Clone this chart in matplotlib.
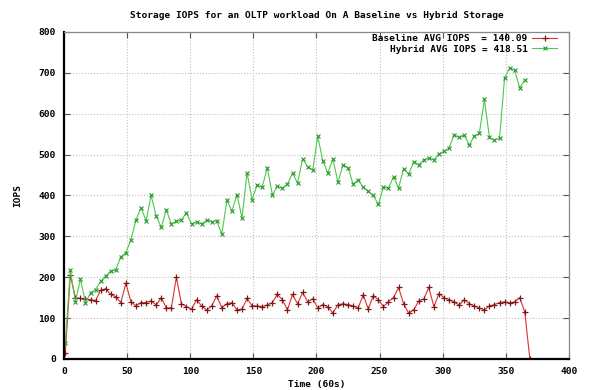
import matplotlib
matplotlib.use('Agg')
import matplotlib.pyplot as plt
import numpy as np

# sample times in minutes (60s intervals), one reading every 4 minutes
time = np.arange(1, 370, 4)

baseline = [15, 205, 150, 148, 147, 145, 143, 168, 172, 158,
            152, 138, 185, 140, 130, 138, 138, 142, 132, 150,
            125, 125, 200, 135, 128, 122, 145, 130, 120, 130,
            155, 125, 135, 138, 120, 122, 148, 130, 130, 128,
            132, 138, 158, 145, 120, 158, 135, 163, 140, 147,
            125, 133, 128, 112, 133, 135, 133, 130, 125, 157,
            122, 155, 145, 128, 140, 150, 175, 135, 112, 120,
            142, 147, 175, 128, 160, 150, 145, 140, 132, 145,
            135, 130, 125, 120, 130, 133, 138, 140, 137, 140,
            150, 115, 0]

hybrid = [40, 218, 140, 195, 138, 162, 170, 190, 203, 215,
          218, 250, 260, 292, 340, 370, 338, 400, 350, 322,
          365, 330, 337, 340, 358, 330, 336, 330, 340, 336,
          338, 305, 388, 362, 402, 345, 455, 390, 426, 420,
          468, 402, 422, 418, 428, 455, 430, 490, 470, 462,
          545, 485, 455, 490, 432, 475, 468, 428, 438, 420,
          410, 400, 378, 420, 418, 446, 418, 466, 452, 483,
          475, 487, 491, 487, 502, 508, 516, 548, 542, 548,
          524, 545, 552, 635, 542, 535, 540, 688, 712, 706,
          663, 683]

x_ticks = [0, 50, 100, 150, 200, 250, 300, 350, 400]
y_ticks = [0, 100, 200, 300, 400, 500, 600, 700, 800]

mono = {'family': 'DejaVu Sans Mono', 'weight': 'bold', 'size': 6.8}

fig = plt.figure(figsize=(5.89, 3.90), dpi=100, facecolor='white')
ax = fig.add_axes([0.1087, 0.0795, 0.8573, 0.8385])

ax.plot(time[:len(baseline)], baseline, color='#e03030', linewidth=0.8,
        marker='+', markersize=4, markeredgewidth=0.9, markeredgecolor='#7a1818',
        label='Baseline AVG IOPS  = 140.09')
ax.plot(time[:len(hybrid)], hybrid, color='#4cc84c', linewidth=0.8,
        marker='x', markersize=3.5, markeredgewidth=0.8, markeredgecolor='#2a962a',
        label='Hybrid AVG IOPS = 418.51')

ax.set_xlim(0, 400)
ax.set_ylim(0, 800)
ax.set_xticks(x_ticks)
ax.set_yticks(y_ticks)
ax.set_xticklabels([str(v) for v in x_ticks], fontdict=mono)
ax.set_yticklabels([str(v) for v in y_ticks], fontdict=mono)

ax.grid(True, color='#c0c0c0', linestyle=':', linewidth=0.8)
ax.tick_params(direction='in', length=4, width=0.8, top=True, right=True,
               colors='#555555', labelcolor='black', pad=6)

for side in ['left', 'bottom']:
    ax.spines[side].set_color('black')
    ax.spines[side].set_linewidth(1.6)
for side in ['top', 'right']:
    ax.spines[side].set_color('#888888')
    ax.spines[side].set_linewidth(0.9)

ax.set_title('Storage IOPS for an OLTP workload On A Baseline vs Hybrid Storage',
             fontdict=mono, pad=10)
ax.set_xlabel('Time (60s)', fontdict=mono, labelpad=3)
ax.set_ylabel('IOPS', fontdict=mono, labelpad=12)

leg = ax.legend(loc='upper right', bbox_to_anchor=(0.976, 0.993), frameon=False,
                prop=mono, markerfirst=False, handlelength=2.6, borderaxespad=0,
                borderpad=0, labelspacing=0.15, handletextpad=0.5)
for t in leg.get_texts():
    t.set_ha('right')

fig.savefig('out.png', dpi=100, facecolor='white')
